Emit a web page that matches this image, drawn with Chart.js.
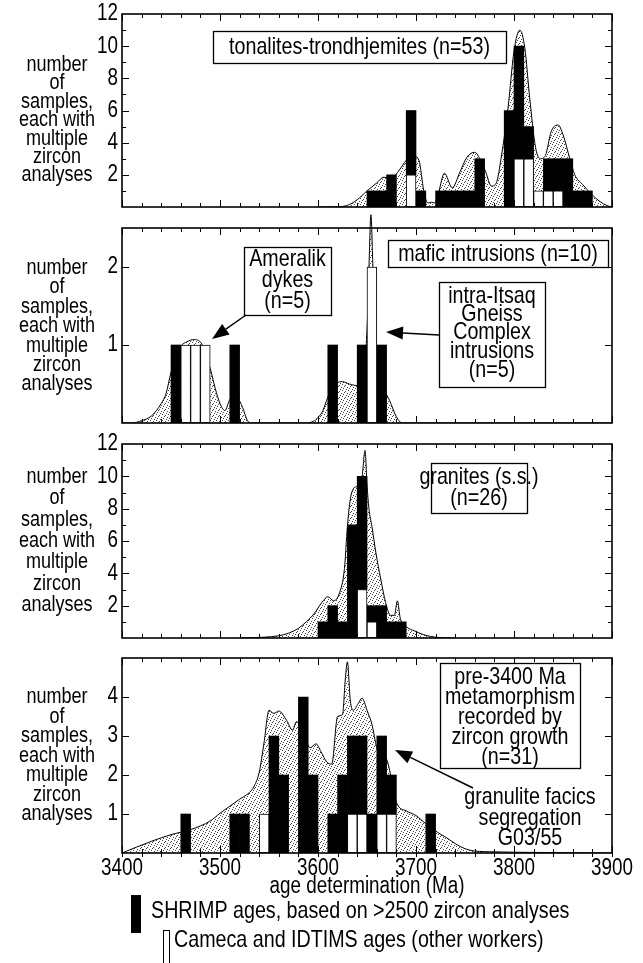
<!DOCTYPE html>
<html>
<head>
<meta charset="utf-8">
<script src="https://cdn.jsdelivr.net/npm/chart.js@4.4.0/dist/chart.umd.min.js"></script>
<style>
  html, body { margin: 0; padding: 0; background: #fff; }
  #wrap { position: relative; width: 643px; height: 963px; overflow: hidden; background: #fff; }
  #wrap canvas { position: absolute; left: 0; top: 0; }
</style>
</head>
<body>
<div id="wrap">
  <canvas id="p1" width="643" height="963"></canvas>
  <canvas id="p2" width="643" height="963"></canvas>
  <canvas id="p3" width="643" height="963"></canvas>
  <canvas id="p4" width="643" height="963"></canvas>
</div>
<script>
// ---- data: bins are 10 Ma wide, given by lower edge (Ma) ----

// tonalites-trondhjemites
const tonBins   = [3650, 3660, 3670, 3690, 3700, 3720, 3730, 3740, 3750, 3760, 3790, 3800, 3810, 3820, 3830, 3840, 3850, 3860, 3870];
const tonShrimp = [1, 1, 2, 4, 1, 1, 1, 1, 1, 3, 6, 7, 2, 0, 2, 2, 3, 1, 1];
const tonOther  = [0, 0, 0, 2, 0, 0, 0, 0, 0, 0, 0, 3, 3, 1, 1, 1, 0, 0, 0];
const tonCurveAge = [3600, 3620, 3630, 3640, 3650, 3660, 3667, 3675, 3683, 3690, 3697, 3703, 3708, 3712, 3716, 3719, 3723, 3729, 3737, 3745, 3752, 3760, 3766, 3771, 3777, 3782, 3787, 3794, 3800, 3806, 3811, 3816, 3822, 3827, 3832, 3838, 3845, 3850, 3857, 3862, 3870, 3879, 3887, 3896, 3900];
const tonCurveVal = [0, 0.02, 0.1, 0.45, 1.0, 1.5, 1.85, 1.8, 2.3, 2.9, 3.2, 2.9, 1.0, 0.25, 0.3, 0.25, 0.9, 2.1, 1.2, 2.2, 3.1, 3.4, 2.9, 2.2, 1.3, 1.5, 3.1, 6.2, 9.7, 11.0, 9.9, 6.8, 3.7, 3.0, 3.2, 4.7, 5.1, 4.5, 3.0, 2.0, 1.4, 0.8, 0.37, 0.06, 0];

// mafic intrusions
const mafBins   = [3450, 3460, 3470, 3480, 3510, 3610, 3640, 3650, 3660];
const mafShrimp = [1, 0, 0, 0, 1, 1, 1, 0, 1];
const mafOther  = [0, 1, 1, 1, 0, 0, 0, 2, 0];
const mafCurveAge = [3400, 3410, 3420, 3430, 3440, 3445, 3450, 3458, 3466, 3474, 3482, 3490, 3495, 3500, 3505, 3510, 3516, 3523, 3528, 3532, 3585, 3595, 3600, 3605, 3610, 3618, 3625, 3632, 3640, 3646, 3650, 3652, 3654, 3656, 3658, 3662, 3667, 3673, 3680, 3686, 3900];
const mafCurveVal = [0, 0, 0.03, 0.09, 0.25, 0.38, 0.65, 0.95, 1.04, 1.07, 1.0, 0.7, 0.45, 0.25, 0.16, 0.3, 0.35, 0.2, 0.03, 0, 0, 0.02, 0.07, 0.16, 0.33, 0.5, 0.53, 0.5, 0.48, 0.6, 1.2, 2.0, 2.67, 2.0, 1.2, 0.7, 0.45, 0.29, 0.08, 0, 0];

// granites (s.s.)
const graBins   = [3600, 3610, 3620, 3630, 3640, 3650, 3660, 3670, 3680];
const graShrimp = [1, 2, 1, 7, 7, 1, 2, 1, 1];
const graOther  = [0, 0, 0, 0, 3, 1, 0, 0, 0];
const graCurveAge = [3520, 3545, 3560, 3570, 3580, 3588, 3596, 3604, 3610, 3616, 3622, 3627, 3630, 3633, 3637, 3641, 3645, 3648, 3650, 3652, 3655, 3659, 3664, 3669, 3674, 3678, 3681, 3684, 3691, 3698, 3708, 3721, 3740];
const graCurveVal = [0, 0.05, 0.14, 0.3, 0.6, 1.0, 1.5, 2.2, 2.55, 2.3, 2.8, 4.3, 6.9, 8.6, 9.3, 9.4, 10.0, 11.6, 9.5, 8.0, 6.9, 5.3, 3.65, 2.2, 1.4, 1.4, 2.3, 1.2, 0.66, 0.45, 0.2, 0.04, 0];

// pre-3400 Ma metamorphism
const metBins   = [3460, 3510, 3520, 3540, 3550, 3560, 3580, 3590, 3610, 3620, 3630, 3640, 3650, 3660, 3670, 3710];
const metShrimp = [1, 1, 1, 0, 3, 2, 4, 2, 1, 2, 2, 2, 1, 2, 1, 1];
const metOther  = [0, 0, 0, 1, 0, 0, 0, 0, 0, 0, 1, 1, 0, 1, 1, 0];
const metCurveAge = [3400, 3430, 3450, 3470, 3490, 3500, 3510, 3520, 3530, 3535, 3540, 3545, 3550, 3555, 3560, 3568, 3574, 3578, 3586, 3592, 3598, 3603, 3609, 3614, 3620, 3625, 3628, 3630, 3633, 3636, 3641, 3645, 3650, 3655, 3660, 3664, 3670, 3675, 3680, 3690, 3700, 3710, 3722, 3730, 3740, 3750, 3760, 3780, 3800, 3900];
const metCurveVal = [0, 0.3, 0.47, 0.6, 0.82, 1.02, 1.2, 1.38, 1.55, 1.72, 2.07, 2.84, 3.66, 3.58, 3.64, 3.4, 3.15, 3.37, 3.0, 2.7, 2.8, 2.6, 2.33, 2.28, 3.5, 3.55, 4.5, 4.9, 3.9, 3.66, 3.83, 3.97, 3.66, 3.3, 2.7, 2.5, 2.4, 1.9, 1.3, 1.08, 0.96, 0.75, 0.53, 0.41, 0.24, 0.11, 0.05, 0.03, 0.02, 0];

const ageTicks = [3400, 3500, 3600, 3700, 3800, 3900];
const yTitleLines = ['number', 'of', 'samples,', 'each with', 'multiple', 'zircon', 'analyses'];

const FONT = '"Liberation Sans", Arial, sans-serif';
const NARROW = 0.82;   // horizontal squeeze, the figure uses a narrow face
const PAGE_H = 963;
const PLOT_LEFT = 122, PLOT_RIGHT = 612;

// stipple fill for the probability curve
function makeStipple() {
    const tile = document.createElement('canvas');
    tile.width = 6; tile.height = 6;
    const g = tile.getContext('2d');
    g.fillStyle = '#fff';
    g.fillRect(0, 0, 6, 6);
    g.fillStyle = '#444';
    [[0, 0], [3, 1], [5, 3], [1, 4], [4, 5], [2, 2]].forEach(p => g.fillRect(p[0], p[1], 1, 1));
    return g.createPattern(tile, 'repeat');
}
const stipple = makeStipple();

function text(ctx, t, x, y, size, align) {
    ctx.save();
    ctx.font = size + 'px ' + FONT;
    ctx.textAlign = align || 'center';
    ctx.textBaseline = 'middle';
    ctx.translate(x, y);
    ctx.scale(NARROW, 1);
    ctx.fillText(t, 0, 0);
    ctx.restore();
}

function drawArrow(ctx, x1, y1, x2, y2) {
    const ang = Math.atan2(y2 - y1, x2 - x1);
    const hl = 17, hw = 6.5;
    const bx = x2 - hl * Math.cos(ang), by = y2 - hl * Math.sin(ang);
    ctx.lineWidth = 1.5;
    ctx.beginPath(); ctx.moveTo(x1, y1); ctx.lineTo(bx, by); ctx.stroke();
    ctx.beginPath();
    ctx.moveTo(x2, y2);
    ctx.lineTo(bx + hw * Math.sin(ang), by - hw * Math.cos(ang));
    ctx.lineTo(bx - hw * Math.sin(ang), by + hw * Math.cos(ang));
    ctx.closePath(); ctx.fill();
}

// frame, inward ticks, tick labels, left title and annotations
function decoPlugin(cfg) {
    return {
        id: 'deco',
        afterDatasetsDraw(chart) {
            const ctx = chart.ctx, a = chart.chartArea;
            const xs = chart.scales.x, ys = chart.scales.y;
            ctx.save();
            ctx.strokeStyle = '#000';
            ctx.fillStyle = '#000';
            ctx.lineWidth = 1;
            for (let v = 3400; v <= 3900; v += 20) {
                const x = Math.round(xs.getPixelForValue(v)) + 0.5;
                const len = v % 100 === 0 ? 7 : 4;
                ctx.beginPath();
                ctx.moveTo(x, a.top); ctx.lineTo(x, a.top + len);
                ctx.moveTo(x, a.bottom); ctx.lineTo(x, a.bottom - len);
                if (cfg.outTicks) { ctx.moveTo(x, a.bottom); ctx.lineTo(x, a.bottom + 4); }
                ctx.stroke();
            }
            for (let v = cfg.yMinor; v < ys.max; v += cfg.yMinor) {
                const y = Math.round(ys.getPixelForValue(v)) + 0.5;
                const len = Math.abs(v % cfg.yMajor) < 1e-6 ? 7 : 4;
                ctx.beginPath();
                ctx.moveTo(a.left, y); ctx.lineTo(a.left + len, y);
                ctx.moveTo(a.right, y); ctx.lineTo(a.right - len, y);
                ctx.stroke();
            }
            ctx.lineWidth = 1.6;
            ctx.strokeRect(a.left, a.top, a.right - a.left, a.bottom - a.top);

            // tick labels from the scales
            ys.ticks.forEach(t => {
                if (t.value > 0 && t.value <= cfg.yLabelMax && Number.isInteger(t.value)) {
                    text(ctx, String(t.value), a.left - 4, ys.getPixelForValue(t.value), 23, 'right');
                }
            });
            if (cfg.showAges) {
                ageTicks.forEach(v => text(ctx, String(v), xs.getPixelForValue(v), a.bottom + 16, 23));
            }

            yTitleLines.forEach((t, i) => text(ctx, t, 57, cfg.titleTop + i * cfg.titleStep, 22));

            (cfg.boxes || []).forEach(b => {
                ctx.fillStyle = '#fff';
                ctx.fillRect(b.x1, b.y1, b.x2 - b.x1, b.y2 - b.y1);
                ctx.fillStyle = '#000';
                ctx.lineWidth = 1.3;
                ctx.strokeRect(b.x1 + 0.5, b.y1 + 0.5, b.x2 - b.x1, b.y2 - b.y1);
                b.lines.forEach((t, i) => text(ctx, t, (b.x1 + b.x2) / 2, b.ys[i], 24));
            });
            (cfg.texts || []).forEach(tb => {
                tb.lines.forEach((t, i) => text(ctx, t, tb.cx, tb.ys[i], 24));
            });
            (cfg.arrows || []).forEach(ar => drawArrow(ctx, ar[0], ar[1], ar[2], ar[3]));

            if (cfg.legend) {
                text(ctx, 'age determination (Ma)', (PLOT_LEFT + PLOT_RIGHT) / 2, 887, 23);
                ctx.fillStyle = '#000';
                ctx.fillRect(131, 895, 10, 38);
                ctx.lineWidth = 1;
                ctx.strokeRect(163.5, 930.5, 6, 34);
                text(ctx, 'SHRIMP ages, based on >2500 zircon analyses', 151, 911, 24, 'left');
                text(ctx, 'Cameca and IDTIMS ages (other workers)', 174, 940, 24, 'left');
            }
            ctx.restore();
        }
    };
}

function makePanel(id, p) {
    const xAxisH = p.showAges ? 30 : 0;
    const other = p.bins.map((b, i) => ({ x: b + 5, y: p.other[i] || null }));
    const shrimp = p.bins.map((b, i) => ({ x: b + 5, y: p.shrimp[i] || null }));
    const curve = p.curveAge.map((x, i) => ({ x: x, y: p.curveVal[i] }));

    new Chart(document.getElementById(id), {
        type: 'bar',
        data: {
            datasets: [
                {
                    label: 'Cameca and IDTIMS ages',
                    data: other,
                    backgroundColor: '#fff',
                    borderColor: '#000',
                    borderWidth: 1,
                    borderSkipped: false,
                    barPercentage: 1,
                    categoryPercentage: 1,
                    order: 0
                },
                {
                    label: 'SHRIMP ages',
                    data: shrimp,
                    backgroundColor: '#000',
                    borderWidth: 0,
                    barPercentage: 1,
                    categoryPercentage: 1,
                    order: 1
                },
                {
                    type: 'line',
                    label: 'probability',
                    data: curve,
                    borderColor: '#000',
                    borderWidth: 1,
                    backgroundColor: stipple,
                    fill: 'origin',
                    pointRadius: 0,
                    cubicInterpolationMode: 'monotone',
                    clip: p.clip || 0,
                    order: 2
                }
            ]
        },
        options: {
            responsive: false,
            animation: false,
            devicePixelRatio: 1,
            events: [],
            layout: {
                padding: { left: 0, right: 643 - PLOT_RIGHT, top: p.top, bottom: PAGE_H - p.bottom - xAxisH }
            },
            plugins: {
                legend: { display: false },
                tooltip: { enabled: false }
            },
            scales: {
                x: {
                    type: 'linear',
                    min: 3400,
                    max: 3900,
                    offset: false,
                    stacked: true,
                    grid: { display: false, drawTicks: false },
                    border: { display: false },
                    afterBuildTicks: s => { s.ticks = ageTicks.map(v => ({ value: v })); },
                    ticks: { display: false },
                    afterFit: s => { s.height = xAxisH; }
                },
                y: {
                    min: 0,
                    max: p.ymax,
                    stacked: true,
                    grid: { display: false, drawTicks: false },
                    border: { display: false },
                    ticks: { display: false, stepSize: p.yStep },
                    afterFit: s => { s.width = PLOT_LEFT; }
                }
            }
        },
        plugins: [decoPlugin(p)]
    });
}

makePanel('p1', {
    top: 14, bottom: 207, ymax: 12, yStep: 2, yLabelMax: 12, yMinor: 1, yMajor: 2,
    bins: tonBins, shrimp: tonShrimp, other: tonOther, curveAge: tonCurveAge, curveVal: tonCurveVal,
    titleTop: 65, titleStep: 18.4,
    boxes: [{ x1: 213, y1: 31, x2: 506, y2: 63, lines: ['tonalites-trondhjemites (n=53)'], ys: [47] }]
});

makePanel('p2', {
    top: 228, bottom: 423, ymax: 2.5, yStep: 1, yLabelMax: 2, yMinor: 1, yMajor: 1,
    bins: mafBins, shrimp: mafShrimp, other: mafOther, curveAge: mafCurveAge, curveVal: mafCurveVal,
    clip: { left: 0, top: 14, right: 0, bottom: 0 },
    titleTop: 268, titleStep: 19.4,
    boxes: [
        { x1: 388, y1: 240, x2: 608, y2: 267, lines: ['mafic intrusions (n=10)'], ys: [254] },
        { x1: 244, y1: 247, x2: 331, y2: 315, lines: ['Ameralik', 'dykes', '(n=5)'], ys: [259, 280, 301] },
        { x1: 439, y1: 282, x2: 545, y2: 387, lines: ['intra-Itsaq', 'Gneiss', 'Complex', 'intrusions', '(n=5)'], ys: [296, 314, 332, 351, 370] }
    ],
    arrows: [[246, 315, 212, 339], [439, 335, 386, 332]]
});

makePanel('p3', {
    top: 444, bottom: 638, ymax: 12, yStep: 2, yLabelMax: 12, yMinor: 1, yMajor: 2,
    bins: graBins, shrimp: graShrimp, other: graOther, curveAge: graCurveAge, curveVal: graCurveVal,
    titleTop: 477, titleStep: 21.3,
    boxes: [{ x1: 431, y1: 463, x2: 527, y2: 513, lines: ['granites (s.s.)', '(n=26)'], ys: [477, 498] }]
});

makePanel('p4', {
    top: 658, bottom: 853, ymax: 5, yStep: 1, yLabelMax: 4, yMinor: 1, yMajor: 1,
    bins: metBins, shrimp: metShrimp, other: metOther, curveAge: metCurveAge, curveVal: metCurveVal,
    titleTop: 697, titleStep: 19.5, showAges: true, outTicks: true, legend: true,
    boxes: [{ x1: 440, y1: 663, x2: 580, y2: 768, lines: ['pre-3400 Ma', 'metamorphism', 'recorded by', 'zircon growth', '(n=31)'], ys: [677, 697, 717, 737, 757] }],
    texts: [{ cx: 530, lines: ['granulite facics', 'segregation', 'G03/55'], ys: [797, 818, 838] }],
    arrows: [[473, 788, 395, 750]]
});
</script>
</body>
</html>
